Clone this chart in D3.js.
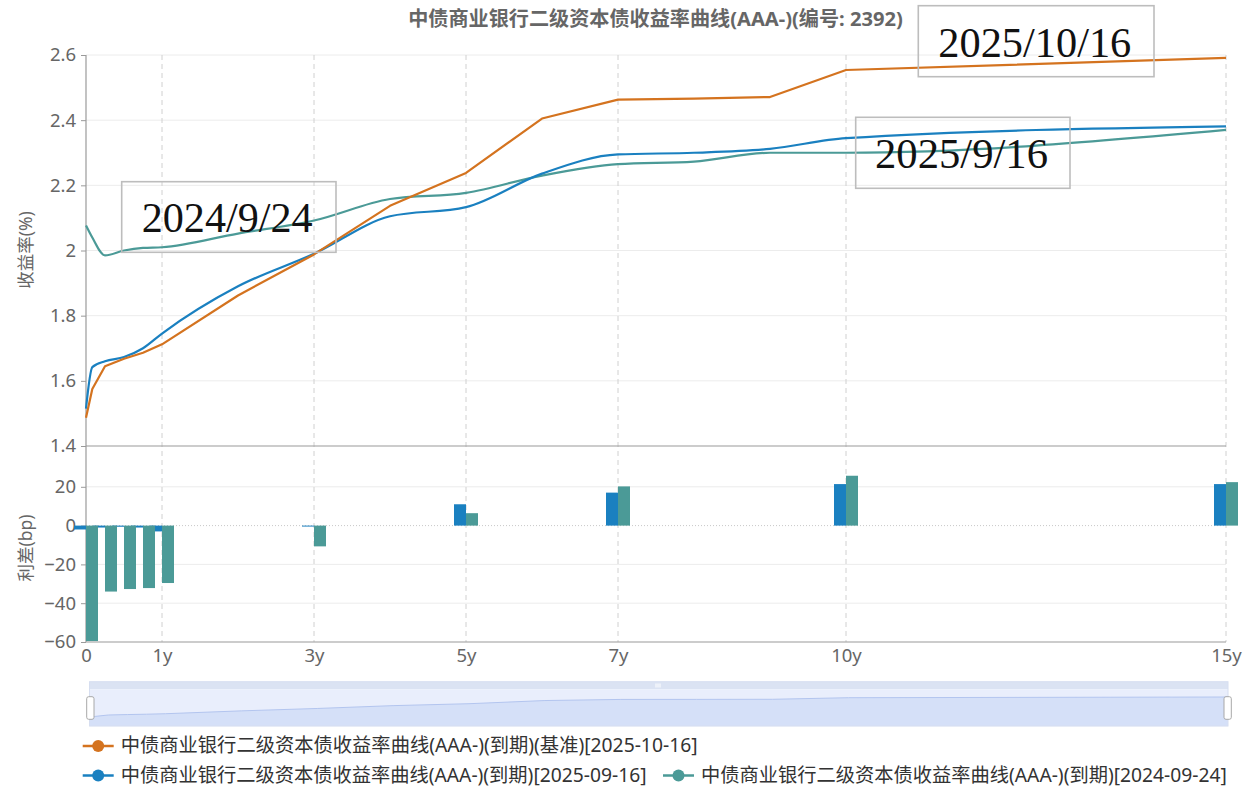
<!DOCTYPE html>
<html><head><meta charset="utf-8">
<script src="https://cdn.jsdelivr.net/npm/d3@7/dist/d3.min.js"></script>
<style>
html,body{margin:0;padding:0;background:#fff;}
svg{display:block;font-family:"Noto Sans","Noto Sans CJK SC",sans-serif;}
</style></head>
<body><svg id="c" width="1243" height="787"></svg>
<script>
// ---- data ----
const tenors = [0, 0.083, 0.25, 0.5, 0.75, 1, 2, 3, 4, 5, 6, 7, 8, 9, 10, 15];
const base1016 = [1.487, 1.575, 1.645, 1.668, 1.686, 1.712, 1.862, 1.988, 2.137, 2.238, 2.405, 2.463, 2.466, 2.471, 2.554, 2.591];
const curve0916 = [1.515, 1.642, 1.660, 1.673, 1.700, 1.745, 1.890, 1.990, 2.105, 2.133, 2.236, 2.295, 2.300, 2.312, 2.345, 2.381];
const curve0924 = [2.077, 2.040, 1.985, 2.000, 2.008, 2.010, 2.052, 2.092, 2.158, 2.177, 2.230, 2.265, 2.273, 2.300, 2.300, 2.370];
const barTenors = [0, 0.25, 0.5, 0.75, 1, 3, 5, 7, 10, 15];
const spread0916 = [-2, -1, -0.6, -1, -3, -0.5, 11, 17, 21.4, 21.4];
const spread0924 = [-59.5, -34, -32.7, -32.2, -29.6, -10.7, 6.4, 20.2, 25.7, 22.4];
const xTicks = [0, 1, 3, 5, 7, 10, 15];
const xTickLabels = ["0", "1y", "3y", "5y", "7y", "10y", "15y"];
const yTicksTop = [1.4, 1.6, 1.8, 2.0, 2.2, 2.4, 2.6];
const yTicksBottom = [-60, -40, -20, 0, 20];
const seriesNames = [
  "中债商业银行二级资本债收益率曲线(AAA-)(到期)(基准)[2025-10-16]",
  "中债商业银行二级资本债收益率曲线(AAA-)(到期)[2025-09-16]",
  "中债商业银行二级资本债收益率曲线(AAA-)(到期)[2024-09-24]"
];
const titleText = "中债商业银行二级资本债收益率曲线(AAA-)(编号: 2392)";
const annotations = [
  {text: "2024/9/24", box: [121.7, 181.7, 214.3, 70.6], tx: 141.7, ty: 232.3, tw: 171},
  {text: "2025/10/16", box: [918.3, 5.7, 235.7, 71], tx: 938.3, ty: 57.3, tw: 193},
  {text: "2025/9/16", box: [855.7, 117.3, 214.3, 71], tx: 875, ty: 168.3, tw: 173}
];
const colors = ["#d4731f", "#1a80c0", "#4b9a97"];

// ---- layout ----
const svg = d3.select("#c");
const x = d3.scaleLinear().domain([0, 15]).range([86, 1226]);
const yTop = d3.scaleLinear().domain([1.4, 2.6]).range([446, 55]);
const yBot = d3.scaleLinear().domain([-60, 40]).range([642, 448]);
const grey = "#666";
const FONT = '"Noto Sans","Noto Sans CJK SC",sans-serif';

// fit a text element's font size so that its rendered width matches a target width
function fitWidth(sel, size, target) {
  sel.attr("font-size", size);
  const w = sel.node().getComputedTextLength();
  if (w > 0) sel.attr("font-size", (size * target / w).toFixed(2));
  return sel;
}

// title
fitWidth(svg.append("text").attr("x", 655.5).attr("y", 26).attr("text-anchor", "middle")
  .attr("font-weight", "bold").attr("fill", grey).text(titleText), 16, 495);

// horizontal grid (top)
svg.append("g").selectAll("line").data(yTicksTop.filter(d => d > 1.4)).join("line")
  .attr("x1", 86).attr("x2", 1226).attr("y1", d => yTop(d)).attr("y2", d => yTop(d))
  .attr("stroke", "#ececec").attr("stroke-width", 1);
// horizontal grid (bottom)
svg.append("g").selectAll("line").data(yTicksBottom.filter(d => d !== 0 && d !== -60)).join("line")
  .attr("x1", 86).attr("x2", 1226).attr("y1", d => yBot(d)).attr("y2", d => yBot(d))
  .attr("stroke", "#ececec").attr("stroke-width", 1);
// zero line dotted
svg.append("line").attr("x1", 86).attr("x2", 1226).attr("y1", yBot(0)).attr("y2", yBot(0))
  .attr("stroke", "#c8c8c8").attr("stroke-dasharray", "1,2");

// vertical dashed grid
svg.append("g").selectAll("line").data(xTicks.filter(d => d > 0)).join("line")
  .attr("x1", d => x(d)).attr("x2", d => x(d)).attr("y1", 55).attr("y2", 642)
  .attr("stroke", "#d0d0d0").attr("stroke-dasharray", "5,4");

// axis lines
svg.append("line").attr("x1", 86).attr("x2", 1226).attr("y1", yTop(1.4)).attr("y2", yTop(1.4)).attr("stroke", "#9a9a9a").attr("stroke-width", 1.2);
svg.append("line").attr("x1", 86).attr("x2", 1226).attr("y1", yBot(-60)).attr("y2", yBot(-60)).attr("stroke", "#9a9a9a").attr("stroke-width", 1.2);
svg.append("line").attr("x1", 86).attr("x2", 86).attr("y1", 55).attr("y2", 642).attr("stroke", "#9a9a9a").attr("stroke-width", 1.2);

// y axes ticks + labels
const gyT = svg.append("g").attr("transform", "translate(86,0)")
  .call(d3.axisLeft(yTop).tickValues(yTicksTop).tickSize(5).tickPadding(5).tickFormat(d => d === 2 ? "2" : d3.format(".1f")(d)));
const gyB = svg.append("g").attr("transform", "translate(86,0)")
  .call(d3.axisLeft(yBot).tickValues(yTicksBottom).tickSize(5).tickPadding(5).tickFormat(d3.format("d")));
[gyT, gyB].forEach(g => {
  g.select(".domain").remove();
  g.selectAll(".tick line").attr("stroke", "#9a9a9a");
  g.selectAll(".tick text").attr("fill", grey).attr("font-size", 18.5).attr("font-family", FONT);
});

// x axis labels
const gx = svg.append("g").attr("transform", "translate(0,642)")
  .call(d3.axisBottom(x).tickValues(xTicks).tickSize(0).tickPadding(7).tickFormat((d, i) => xTickLabels[i]));
gx.select(".domain").remove();
gx.selectAll(".tick text").attr("fill", grey).attr("font-size", 18.5).attr("font-family", FONT);

// axis titles
svg.append("text").attr("transform", "translate(32,250) rotate(-90)").attr("text-anchor", "middle")
  .attr("font-size", 17.5).attr("fill", grey).text("收益率(%)");
svg.append("text").attr("transform", "translate(32,548) rotate(-90)").attr("text-anchor", "middle")
  .attr("font-size", 17.5).attr("fill", grey).text("利差(bp)");

// bars
const off = d3.scaleBand().domain(["a", "b"]).range([-12, 12]);
const barSeries = [{k: "a", v: spread0916, c: colors[1]}, {k: "b", v: spread0924, c: colors[2]}];
barSeries.forEach(s => {
  svg.append("g").selectAll("rect").data(barTenors.map((t, i) => [t, s.v[i]])).join("rect")
    .attr("x", d => x(d[0]) + off(s.k)).attr("width", off.bandwidth())
    .attr("y", d => yBot(Math.max(0, d[1])))
    .attr("height", d => Math.abs(yBot(d[1]) - yBot(0)))
    .attr("fill", s.c);
});

// lines
const lineSeries = [
  {v: base1016, c: colors[0], curve: d3.curveLinear},
  {v: curve0916, c: colors[1], curve: d3.curveMonotoneX},
  {v: curve0924, c: colors[2], curve: d3.curveMonotoneX}
];
lineSeries.slice().reverse().forEach(s => {
  const ln = d3.line().x(d => x(d[0])).y(d => yTop(d[1])).curve(s.curve);
  svg.append("path").datum(tenors.map((t, i) => [t, s.v[i]])).attr("d", ln)
    .attr("fill", "none").attr("stroke", s.c).attr("stroke-width", 2.2).attr("stroke-linejoin", "round");
});

// annotations
annotations.forEach(a => {
  svg.append("rect").attr("x", a.box[0]).attr("y", a.box[1]).attr("width", a.box[2]).attr("height", a.box[3])
    .attr("fill", "none").attr("stroke", "#bdbdbd").attr("stroke-width", 1.6);
  svg.append("text").attr("x", a.tx).attr("y", a.ty).attr("font-family", '"Liberation Serif","DejaVu Serif",serif')
    .attr("font-size", 43).attr("fill", "#111").attr("textLength", a.tw).attr("lengthAdjust", "spacingAndGlyphs").text(a.text);
});

// data zoom slider
const sx = d3.scaleLinear().domain([0, 15]).range([89.5, 1228]);
const sy = d3.scaleLinear().domain(d3.extent(base1016)).range([718, 697]);
svg.append("rect").attr("x", 89.5).attr("y", 681.7).attr("width", 1138.5).attr("height", 7.6).attr("fill", "#dbe3f3");
svg.append("rect").attr("x", 89.5).attr("y", 689.3).attr("width", 1138.5).attr("height", 37).attr("fill", "#e9eefc");
const area = d3.area().x(d => sx(d[0])).y0(726).y1(d => sy(d[1])).curve(d3.curveLinear);
svg.append("path").datum(tenors.map((t, i) => [t, base1016[i]])).attr("d", area).attr("fill", "#d5e0f8");
const sline = d3.line().x(d => sx(d[0])).y(d => sy(d[1]));
svg.append("path").datum(tenors.map((t, i) => [t, base1016[i]])).attr("d", sline).attr("fill", "none").attr("stroke", "#b3c5ef").attr("stroke-width", 1);
svg.append("rect").attr("x", 89.5).attr("y", 681.7).attr("width", 1138.5).attr("height", 44.3).attr("fill", "none").attr("stroke", "#d6def0").attr("stroke-width", 1);
// grip
[-2, 0, 2].forEach(dx => svg.append("line").attr("x1", 658 + dx).attr("x2", 658 + dx).attr("y1", 683.5).attr("y2", 687.5).attr("stroke", "#ffffff").attr("stroke-width", 1));
// handles
[86.7, 1224].forEach(hx => svg.append("rect").attr("x", hx).attr("y", 696.7).attr("width", 7.3).attr("height", 22.6).attr("rx", 2)
  .attr("fill", "#fff").attr("stroke", "#a8a8a8").attr("stroke-width", 1));

// legend
const legendItems = [
  {name: seriesNames[0], c: colors[0], x: 82.7, y: 746, tw: 577},
  {name: seriesNames[1], c: colors[1], x: 82.7, y: 775.5, tw: 526},
  {name: seriesNames[2], c: colors[2], x: 663, y: 775.5, tw: 526}
];
legendItems.forEach(l => {
  const g = svg.append("g").attr("transform", `translate(${l.x},${l.y})`);
  g.append("line").attr("x1", 0).attr("x2", 31).attr("y1", 0).attr("y2", 0).attr("stroke", l.c).attr("stroke-width", 2.5);
  g.append("circle").attr("cx", 15.5).attr("cy", 0).attr("r", 6).attr("fill", l.c);
  fitWidth(g.append("text").attr("x", 38).attr("y", 0).attr("dy", "0.32em").attr("fill", "#333").text(l.name), 17.5, l.tw);
});
</script></body></html>
